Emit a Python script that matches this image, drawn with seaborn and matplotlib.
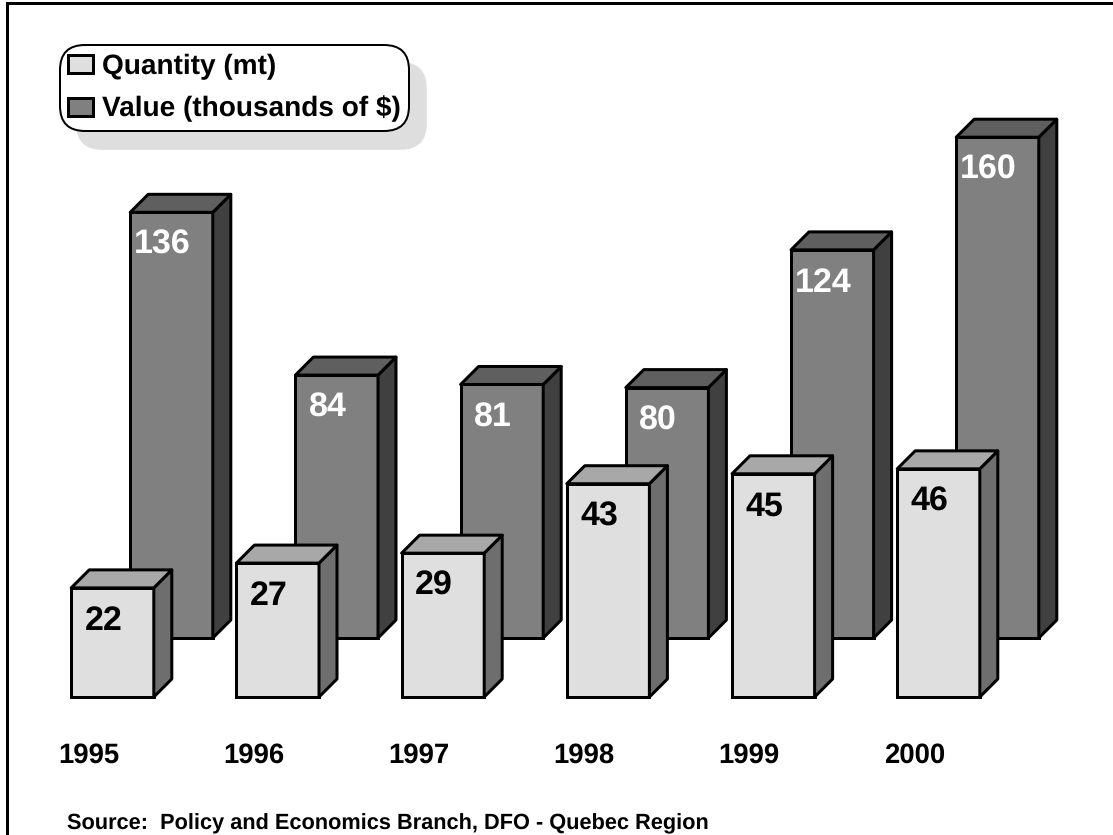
import matplotlib
matplotlib.use("Agg")
import matplotlib.pyplot as plt
from matplotlib.lines import Line2D
from matplotlib.patches import Patch, Polygon
from matplotlib.transforms import IdentityTransform, ScaledTranslation
import pandas as pd
import seaborn as sns

YEARS = ["1995", "1996", "1997", "1998", "1999", "2000"]
QUANTITY = [22, 27, 29, 43, 45, 46]
VALUE = [136, 84, 81, 80, 124, 160]

W, H = 1113, 835
DEPTH = 18  # px, fake 3d offset
STEP = 165.2  # px between years

sns.set_theme(style="white")
plt.rcParams["font.family"] = ["Liberation Sans", "DejaVu Sans"]
plt.rcParams["font.weight"] = "bold"
plt.rcParams["text.hinting"] = "no_hinting"


def px(points):
    return points * 72 / 100


def plot_3d_bars(fig, values, base_y, first_x, px_per_unit, face, side, top, text_color):
    """
    One transparent axes per series, bars from seaborn, side and top faces added from the bar geometry.
    """
    ax = fig.add_axes([0, (H - base_y) / H, 1, base_y / H])
    ax.patch.set_visible(False)
    df = pd.DataFrame({"year": YEARS, "v": values})
    sns.barplot(data=df, x="year", y="v", width=0.5, color=face, saturation=1,
                edgecolor="black", linewidth=px(3), ax=ax)
    ax.set_xlim(-first_x / STEP, (W - first_x) / STEP)
    ax.set_ylim(0, base_y / px_per_unit)
    ax.set_xlabel("")
    ax.set_ylabel("")
    ax.set_yticks([])
    sns.despine(ax=ax, left=True, bottom=True)
    for bar, val in zip(list(ax.patches), values):
        bar.set_clip_on(False)
        x0, y0 = ax.transData.transform((bar.get_x(), 0))
        x1, y1 = ax.transData.transform((bar.get_x() + bar.get_width(), val))
        side_pts = [(x1, y0), (x1 + DEPTH, y0 + DEPTH), (x1 + DEPTH, y1 + DEPTH), (x1, y1)]
        top_pts = [(x0, y1), (x0 + DEPTH, y1 + DEPTH), (x1 + DEPTH, y1 + DEPTH), (x1, y1)]
        for pts, color in [(side_pts, side), (top_pts, top)]:
            ax.add_patch(Polygon(pts, closed=True, facecolor=color, edgecolor="black",
                                 linewidth=px(3), joinstyle="round", clip_on=False,
                                 transform=IdentityTransform()))
        ax.annotate(str(val), (bar.get_x() + bar.get_width() / 2, val), xytext=(px(-9), px(-33)),
                    textcoords="offset points", ha="center", va="center",
                    fontsize=24.5, fontweight="bold", color=text_color)
    return ax


fig = plt.figure(figsize=(W / 100, H / 100), dpi=100)

ax_value = plot_3d_bars(fig, VALUE, 638, 171.5, 3.13, "#808080", "#404040", "#5f5f5f", "white")
ax_value.set_xticks([])

ax_qty = plot_3d_bars(fig, QUANTITY, 697, 112.5, 4.96, "#dfdfdf", "#6e6e6e", "#a8a8a8", "black")
ax_qty.tick_params(axis="x", length=0, pad=px(45))
ax_qty.set_xticks(range(len(YEARS)), YEARS, fontsize=19.8, fontweight="bold", color="black")
for label in ax_qty.get_xticklabels():
    label.set_transform(label.get_transform() + ScaledTranslation(px(-24) / 72, 0, fig.dpi_scale_trans))

handles = [Patch(facecolor="#dfdfdf", edgecolor="black", linewidth=px(3), label="Quantity (mt)"),
           Patch(facecolor="#808080", edgecolor="black", linewidth=px(3), label="Value (thousands of $)")]
leg = ax_qty.legend(handles=handles, loc="upper left", bbox_to_anchor=(60 / W, 1 - 45 / H),
                    bbox_transform=fig.transFigure, prop={"size": 20.2, "weight": "bold"},
                    labelcolor="black", frameon=True, framealpha=1, facecolor="white",
                    edgecolor="black", fancybox=True, borderaxespad=0, borderpad=0.3,
                    handlelength=0.88, handleheight=0.6, handletextpad=0.3, labelspacing=0.58,
                    shadow={"ox": px(17), "oy": px(-18), "facecolor": "#dedede",
                            "edgecolor": "#dedede", "alpha": 1})
leg.get_frame().set_linewidth(px(2))
leg.get_frame().set_boxstyle("round", pad=0, rounding_size=0.9)

fig.text(67 / W, 1 - 824 / H, "Source:  Policy and Economics Branch, DFO - Quebec Region",
         fontsize=15.7, fontweight="bold", color="black", ha="left", va="center")

# page frame: only top and left edges are visible in the original
frame_kw = dict(transform=IdentityTransform(), color="black", linewidth=px(3), solid_capstyle="projecting")
fig.add_artist(Line2D([7, 7], [0, H - 3], **frame_kw))
fig.add_artist(Line2D([7, W], [H - 3, H - 3], **frame_kw))

fig.savefig("out.png", dpi=100, facecolor="white")
